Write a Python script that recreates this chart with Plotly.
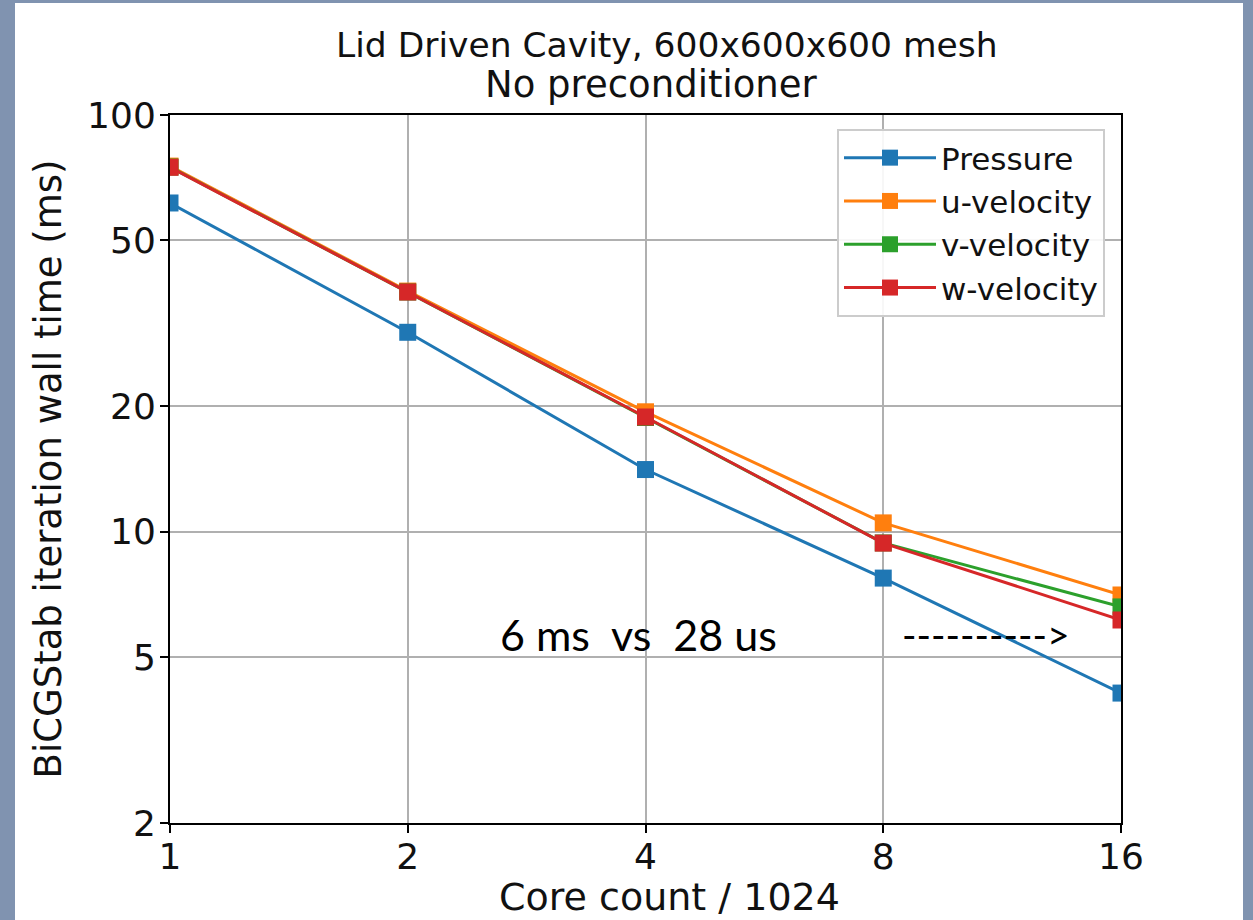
import plotly.graph_objects as go

cores = [1, 2, 4, 8, 16]
pressure = [61.5, 30.1, 14.1, 7.74, 4.10]
u_vel = [75.4, 37.8, 19.4, 10.5, 7.05]
v_vel = [75.0, 37.6, 18.8, 9.40, 6.60]
w_vel = [74.9, 37.6, 18.85, 9.39, 6.14]

series = [("Pressure", pressure, "#1f77b4"),
          ("u-velocity", u_vel, "#ff7f0e"),
          ("v-velocity", v_vel, "#2ca02c"),
          ("w-velocity", w_vel, "#d62728")]

x_ticks = [1, 2, 4, 8, 16]
y_ticks = [2, 5, 10, 20, 50, 100]

title_lines = ["Lid Driven Cavity, 600x600x600 mesh", "No preconditioner"]
x_label = "Core count / 1024"
y_label = "BiCGStab iteration wall time (ms)"

FONT = "DejaVu Sans"

fig = go.Figure()
for name, vals, col in series:
    fig.add_trace(go.Scatter(
        x=cores, y=vals, name=name, mode="lines+markers",
        line=dict(color=col, width=3),
        marker=dict(symbol="square", size=17, color=col),
    ))

W, H = 1253, 920
L, R, T, B = 170, 132, 115, 97
pw, ph = W - L - R, H - T - B

def px_x(p):
    return (p - L) / pw

def px_y(p):
    return (H - B - p) / ph

# white panel on slate background
fig.add_shape(type="rect", xref="paper", yref="paper",
              x0=px_x(15), x1=px_x(1243), y0=px_y(980), y1=px_y(3),
              fillcolor="white", line=dict(width=0), layer="below")

# title (two lines)
fig.add_annotation(text=title_lines[0], xref="paper", yref="paper",
                   x=px_x(667), y=px_y(45), showarrow=False,
                   font=dict(family=FONT, size=34.5, color="#111"),
                   xanchor="center", yanchor="middle")
fig.add_annotation(text=title_lines[1], xref="paper", yref="paper",
                   x=px_x(651), y=px_y(85), showarrow=False,
                   font=dict(family=FONT, size=37, color="#111"),
                   xanchor="center", yanchor="middle")

# x axis label
fig.add_annotation(text=x_label, xref="paper", yref="paper",
                   x=px_x(669), y=px_y(897), showarrow=False,
                   font=dict(family=FONT, size=38, color="#111"),
                   xanchor="center", yanchor="middle")

fig.add_annotation(text="6 ms  vs  28 us", xref="paper", yref="paper",
                   x=px_x(638), y=px_y(634), showarrow=False,
                   font=dict(family="Lato", size=43, color="black"),
                   xanchor="center", yanchor="middle")
fig.add_annotation(text="---------->", xref="paper", yref="paper",
                   x=px_x(986), y=px_y(634), showarrow=False,
                   font=dict(family="Lato", size=39, color="black"),
                   xanchor="center", yanchor="middle")

fig.update_layout(
    width=W, height=H,
    margin=dict(l=L, r=R, t=T, b=B, autoexpand=False),
    paper_bgcolor="#8093b0",
    plot_bgcolor="white",
    font=dict(family=FONT, color="black", size=33),
    showlegend=True,
    legend=dict(x=px_x(1105), y=px_y(129), xanchor="right", yanchor="top",
                bgcolor="rgba(255,255,255,0.9)", bordercolor="#cccccc", borderwidth=2,
                font=dict(family=FONT, size=31, color="#111"),
                itemwidth=92, tracegroupgap=0),
)

fig.update_xaxes(type="log", range=[0, 1.2041199826559248],
                 tickvals=x_ticks, ticktext=[str(v) for v in x_ticks],
                 showgrid=True, gridcolor="#b0b0b0", gridwidth=1.5,
                 showline=True, linecolor="black", linewidth=2, mirror=True,
                 ticks="outside", ticklen=8, tickwidth=2, tickcolor="black",
                 tickfont=dict(size=36, color="#111"), automargin=False,
                 ticklabelstandoff=-7,
                 zeroline=False)
fig.update_yaxes(type="log", range=[0.30102999566398120, 2],
                 tickvals=y_ticks, ticktext=[str(v) for v in y_ticks],
                 showgrid=True, gridcolor="#b0b0b0", gridwidth=1.5,
                 showline=True, linecolor="black", linewidth=2, mirror=True,
                 ticks="outside", ticklen=8, tickwidth=2, tickcolor="black",
                 tickfont=dict(size=36, color="#111"), automargin=False,
                 ticklabelstandoff=-3,
                 title=dict(text=y_label, font=dict(size=37, color="#111"), standoff=14),
                 zeroline=False)

fig.write_html("out.html")
